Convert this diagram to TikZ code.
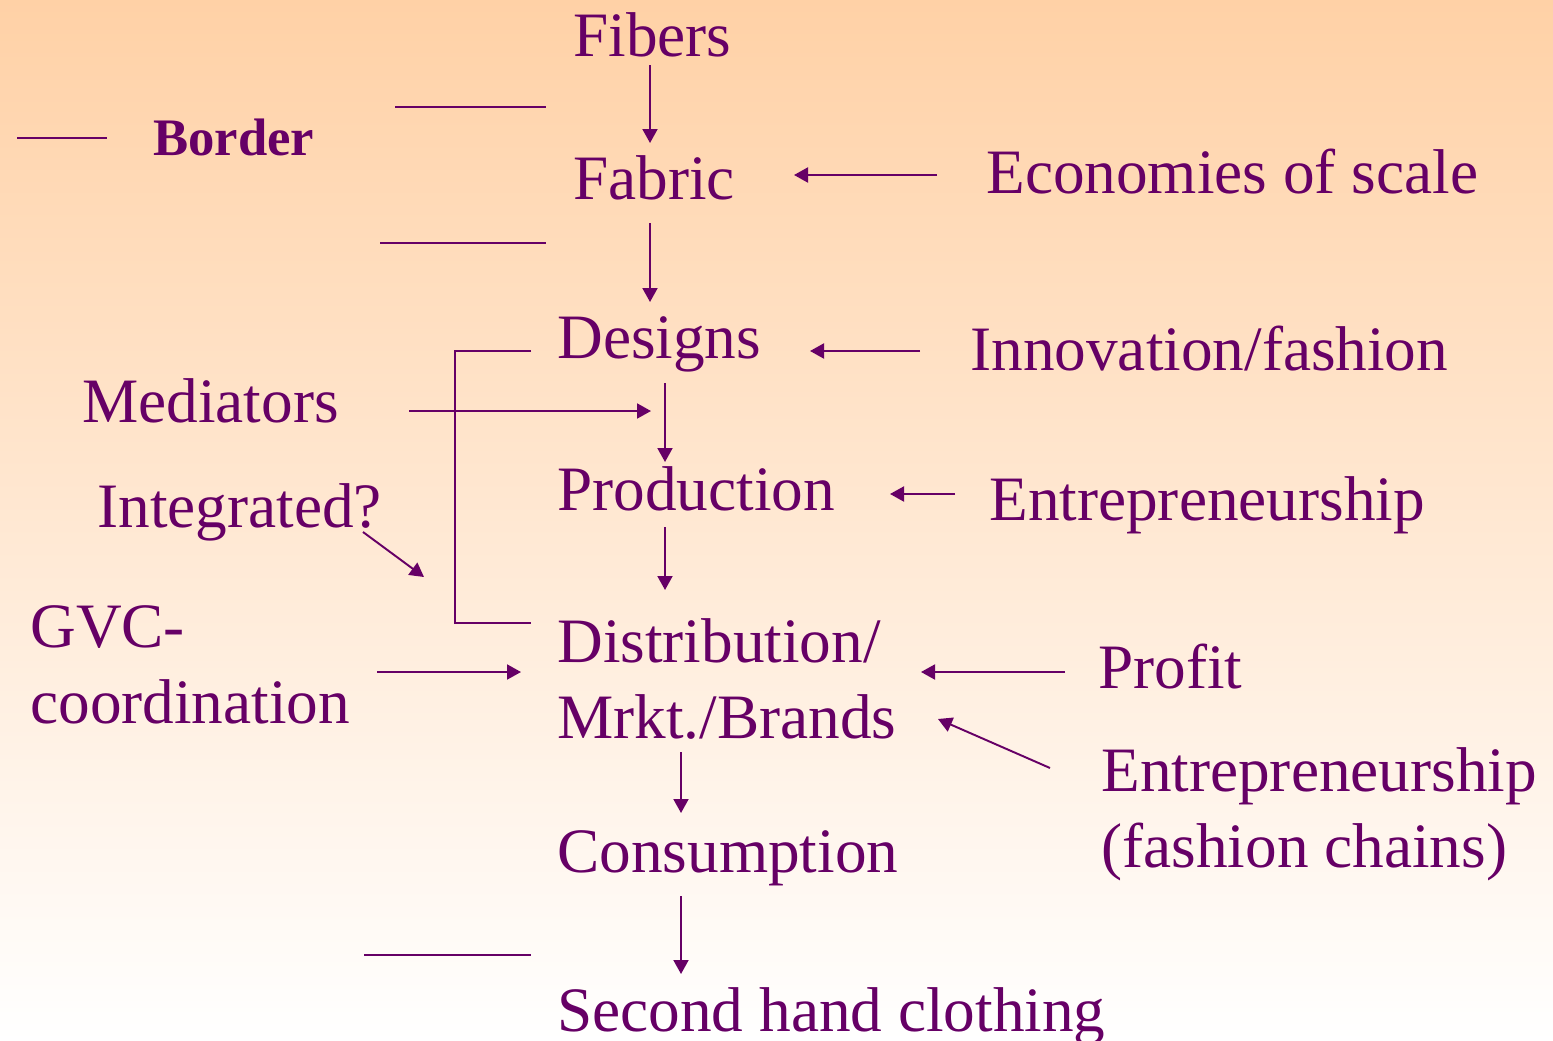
\documentclass[tikz,border=0pt]{standalone}
\usepackage{fontspec}
\setmainfont{Liberation Serif}
\usetikzlibrary{arrows.meta}
\definecolor{plum}{HTML}{660066}
\definecolor{peach}{HTML}{FFD1A6}

\begin{document}
\begin{tikzpicture}[x=0.02cm,y=-0.02cm,
        lbl/.style={anchor=base west,inner sep=0pt,text=plum,font=\fontsize{36}{43}\selectfont},
        arr/.style={plum,line width=1.1pt,-{Triangle[length=0.28cm,width=0.3cm]}},
        rule/.style={plum,line width=1.1pt}]
        % Background
        \useasboundingbox (0,0) rectangle (1553,1041);
        \shade[top color=peach,bottom color=white] (0,0) rectangle (1553,1041);

        % The chain in the middle
        \node[lbl] (fibers) at (573,56) {Fibers};
        \node[lbl] (fabric) at (573,199) {Fabric};
        \node[lbl] (designs) at (557,358) {Designs};
        \node[lbl] (production) at (557,510) {Production};
        \node[lbl,align=left] (distribution) at (557,738) {Distribution/\\Mrkt./Brands};
        \node[lbl] (consumption) at (557,872) {Consumption};
        \node[lbl] (secondhand) at (557,1031) {Second hand clothing};

        % Drivers on the right
        \node[lbl] (scale) at (986,193) {Economies of scale};
        \node[lbl] (innovation) at (970,370) {Innovation/fashion};
        \node[lbl] (entrep) at (989,520) {Entrepreneurship};
        \node[lbl] (profit) at (1098,688) {Profit};
        \node[lbl,align=left] (chains) at (1101,867) {Entrepreneurship\\(fashion chains)};

        % Labels on the left
        \node[lbl,font=\fontsize{30}{36}\selectfont\bfseries] (border) at (153,155) {Border};
        \node[lbl] (mediators) at (82,422) {Mediators};
        \node[lbl] (integrated) at (97,527) {Integrated?};
        \node[lbl,align=left] (gvc) at (30,723) {GVC-\\coordination};

        % Ends of the arrows
        \coordinate (a1) at (650,65);   \coordinate (b1) at (650,143);
        \coordinate (a2) at (650,223);  \coordinate (b2) at (650,302);
        \coordinate (a3) at (665,383);  \coordinate (b3) at (665,462);
        \coordinate (a4) at (665,527);  \coordinate (b4) at (665,590);
        \coordinate (a5) at (681,752);  \coordinate (b5) at (681,813);
        \coordinate (a6) at (681,896);  \coordinate (b6) at (681,974);
        \coordinate (c1) at (937,175);  \coordinate (d1) at (794,175);
        \coordinate (c2) at (920,351);  \coordinate (d2) at (810,351);
        \coordinate (c3) at (955,494);  \coordinate (d3) at (890,494);
        \coordinate (c4) at (1065,672); \coordinate (d4) at (921,672);
        \coordinate (c5) at (1050,768); \coordinate (d5) at (938,719);
        \coordinate (e1) at (409,411);  \coordinate (f1) at (651,411);
        \coordinate (e2) at (363,532);  \coordinate (f2) at (424,577);
        \coordinate (e3) at (377,672);  \coordinate (f3) at (521,672);

        % Draw the arrows
        \foreach \s/\t in {a1/b1,a2/b2,a3/b3,a4/b4,a5/b5,a6/b6,c1/d1,c2/d2,c3/d3,c4/d4,c5/d5,e1/f1,e2/f2,e3/f3}
            \draw[arr] (\s) -- (\t);

        % Border lines and the bracket
        \coordinate (g1) at (17,138);  \coordinate (h1) at (107,138);
        \coordinate (g2) at (395,107); \coordinate (h2) at (546,107);
        \coordinate (g3) at (380,243); \coordinate (h3) at (546,243);
        \coordinate (g4) at (364,955); \coordinate (h4) at (531,955);
        \foreach \s/\t in {g1/h1,g2/h2,g3/h3,g4/h4}
            \draw[rule] (\s) -- (\t);
        \coordinate (k1) at (531,351); \coordinate (k2) at (531,623);
        \draw[rule] (k1) -| (455,623) -- (k2);
    \end{tikzpicture}
\end{document}
